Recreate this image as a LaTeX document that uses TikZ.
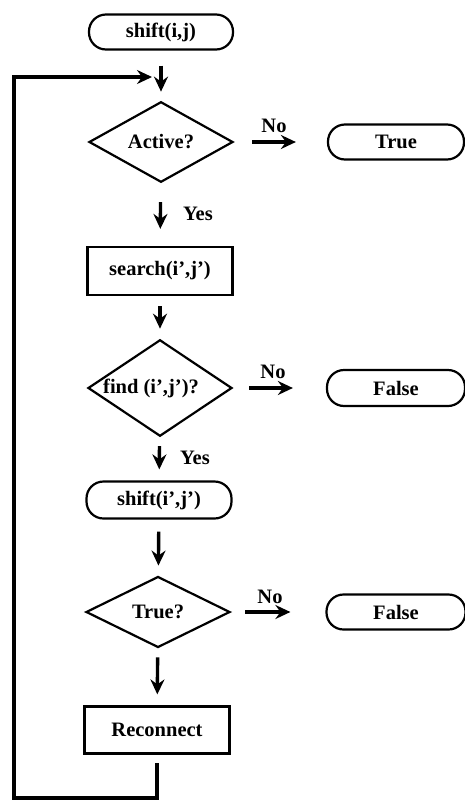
\documentclass[tikz,border=0pt]{standalone}
\usepackage{fontspec}
\setmainfont{Liberation Serif}
\usetikzlibrary{shapes.geometric,arrows.meta}

\tikzset{
  lbl/.style={font=\fontsize{20.5}{22}\selectfont\bfseries},
  terminal/.style={lbl, draw, line width=2.2pt, rectangle, rounded corners=17pt,
    minimum height=35pt, inner sep=0pt},
  procbox/.style={lbl, draw, line width=2.2pt, rectangle, minimum height=48pt,
    minimum width=145pt, inner sep=0pt},
  decision/.style={lbl, draw, line width=2.2pt, diamond, minimum width=144pt,
    minimum height=71pt, inner sep=0pt},
  flow/.style={line width=3.4pt, -{Stealth[length=15pt,width=14pt,inset=5pt]}},
  loopline/.style={line width=3.4pt},
  tag/.style={lbl, inner sep=0pt}
}

\begin{document}
\begin{tikzpicture}[x=1pt, y=-1pt]
  \useasboundingbox (0,0) rectangle (465,801);

  % main column
  \node[terminal, minimum width=144pt] (start) at (161,32) {shift(i,j)};
  \node[decision] (active) at (161,142) {Active?};
  \node[procbox] (search) at (160,271) {search(i',j')};
  \node[decision, minimum height=72pt] (find) at (160,388) {\hspace*{-18pt}find (i',j')?};
  \node[terminal, minimum width=145pt, minimum height=37pt] (shift2) at (159,500) {shift(i',j')};
  \node[decision] (trueq) at (158,612) {True?};
  \node[procbox, minimum height=47pt] (recon) at (157,730) {Reconnect};

  % exits to the right
  \node[terminal, minimum width=136pt] (outtrue) at (396,142) {True};
  \node[terminal, minimum width=138pt, minimum height=36pt] (outfalse1) at (396,388) {False};
  \node[terminal, minimum width=139pt] (outfalse2) at (396,612) {False};

  % downward flow
  \draw[flow, shorten <=15pt, shorten >=9pt] (start) -- (active);
  \draw[flow, shorten <=19pt, shorten >=17pt] (active) -- (search);
  \draw[flow, shorten <=10pt, shorten >=10pt] (search) -- (find);
  \draw[flow, shorten <=9pt, shorten >=11pt] (find) -- (shift2);
  \draw[flow, shorten <=12pt, shorten >=10pt] (shift2) -- (trueq);
  \draw[flow, shorten <=9pt, shorten >=11pt] (trueq) -- (recon);

  % "No" branches
  \draw[flow, shorten <=18pt, shorten >=31pt] (active) -- (outtrue);
  \draw[flow, shorten <=16pt, shorten >=33pt] (find) -- (outfalse1);
  \draw[flow, shorten <=14pt, shorten >=35pt] (trueq) -- (outfalse2);

  % branch labels
  \node[tag] (no1) at (274,126) {No};
  \node[tag] (no2) at (273,372) {No};
  \node[tag] (no3) at (270,597) {No};
  \node[tag] (yes1) at (198,214) {Yes};
  \node[tag] (yes2) at (195,458) {Yes};

  % feedback loop back to the top
  \coordinate (lpA) at (157,763);
  \coordinate (lpB) at (157,798);
  \coordinate (lpC) at (14,798);
  \coordinate (lpD) at (14,77);
  \coordinate (lpE) at (152,77);
  \draw[loopline] (lpA) -- (lpB) -- (lpC) -- (lpD) -- ([xshift=-12pt]lpE);
  \draw[flow] ([xshift=-14pt]lpE) -- (lpE);
\end{tikzpicture}
\end{document}
